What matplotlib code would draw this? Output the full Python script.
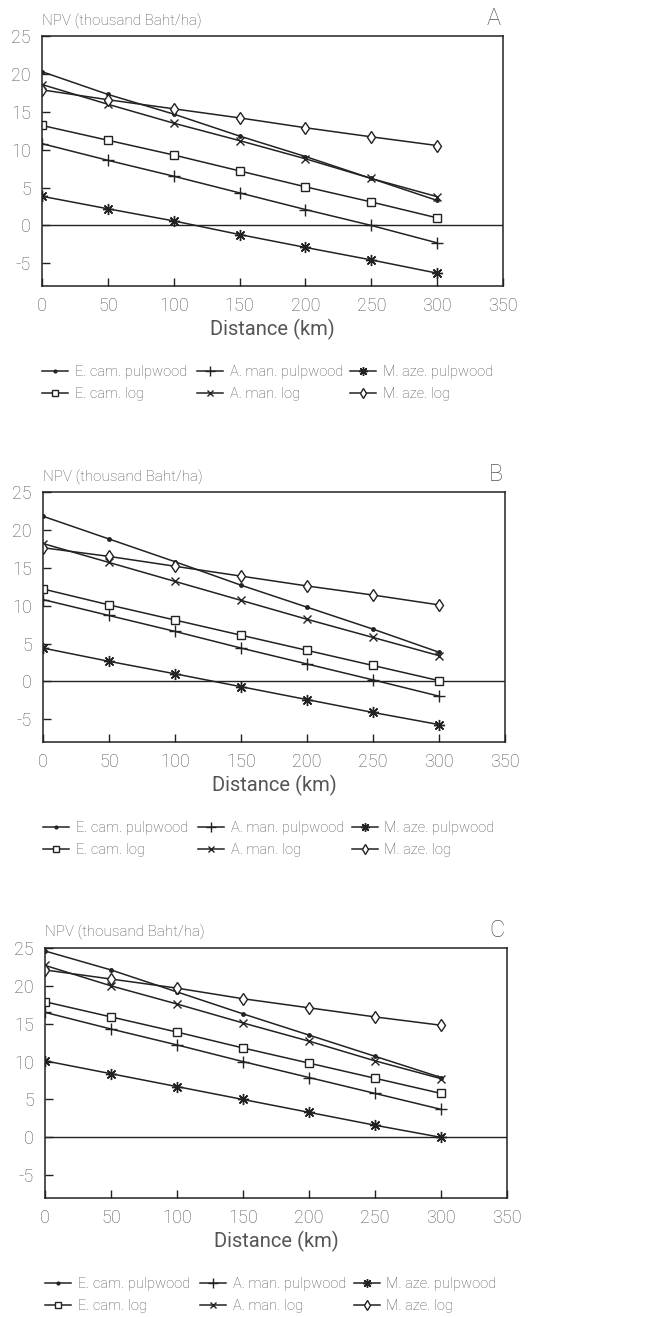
import matplotlib
matplotlib.use('Agg')
import matplotlib.pyplot as plt
from matplotlib.legend import Legend

plt.rcParams['font.family'] = ['Roboto', 'DejaVu Sans']
plt.rcParams['font.weight'] = 'light'
plt.rcParams['axes.unicode_minus'] = False

distanz = [0, 50, 100, 150, 200, 250, 300]

namen = ['E. cam. pulpwood', 'E. cam. log', 'A. man. pulpwood',
         'A. man. log', 'M. aze. pulpwood', 'M. aze. log']

# Panel A
a_ecam_pulp = [20.3, 17.3, 14.7, 11.8, 9.1, 6.2, 3.3]
a_ecam_log = [13.2, 11.25, 9.3, 7.2, 5.1, 3.1, 1.0]
a_aman_pulp = [10.8, 8.6, 6.5, 4.3, 2.1, 0.0, -2.3]
a_aman_log = [18.6, 16.0, 13.5, 11.2, 8.8, 6.2, 3.8]
a_maze_pulp = [3.85, 2.2, 0.6, -1.2, -2.9, -4.55, -6.3]
a_maze_log = [17.9, 16.6, 15.4, 14.2, 12.9, 11.7, 10.55]

# Panel B
b_ecam_pulp = [21.8, 18.8, 15.8, 12.7, 9.8, 6.9, 3.85]
b_ecam_log = [12.2, 10.1, 8.1, 6.1, 4.1, 2.1, 0.1]
b_aman_pulp = [10.8, 8.7, 6.6, 4.4, 2.3, 0.2, -1.95]
b_aman_log = [18.2, 15.7, 13.2, 10.7, 8.2, 5.8, 3.4]
b_maze_pulp = [4.4, 2.65, 1.0, -0.7, -2.4, -4.1, -5.7]
b_maze_log = [17.65, 16.5, 15.2, 13.9, 12.6, 11.4, 10.1]

# Panel C
c_ecam_pulp = [24.6, 22.1, 19.2, 16.3, 13.5, 10.7, 7.9]
c_ecam_log = [17.9, 15.9, 13.9, 11.8, 9.8, 7.8, 5.8]
c_aman_pulp = [16.5, 14.3, 12.2, 10.0, 7.9, 5.8, 3.7]
c_aman_log = [22.7, 20.0, 17.6, 15.1, 12.7, 10.1, 7.75]
c_maze_pulp = [10.1, 8.4, 6.7, 5.0, 3.3, 1.6, 0.0]
c_maze_log = [22.1, 20.9, 19.7, 18.3, 17.1, 15.9, 14.8]

panels = {
    'A': [a_ecam_pulp, a_ecam_log, a_aman_pulp, a_aman_log, a_maze_pulp, a_maze_log],
    'B': [b_ecam_pulp, b_ecam_log, b_aman_pulp, b_aman_log, b_maze_pulp, b_maze_log],
    'C': [c_ecam_pulp, c_ecam_log, c_aman_pulp, c_aman_log, c_maze_pulp, c_maze_log],
}

marker = [
    dict(marker='o', markersize=2.5, markerfacecolor='#222'),
    dict(marker='s', markersize=5.5, markerfacecolor='white'),
    dict(marker='+', markersize=8.5, markeredgewidth=1.0),
    dict(marker='x', markersize=6, markeredgewidth=1.0),
    dict(marker=(8, 2, 0), markersize=8, markeredgewidth=1.0),
    dict(marker='d', markersize=6, markerfacecolor='white'),
]

textfarbe = '#555'
positionen = {'A': [0.0632, 0.7828, 0.6932, 0.1898],
              'B': [0.0647, 0.4366, 0.6947, 0.1898],
              'C': [0.0677, 0.0904, 0.6947, 0.1898]}
spalten_x = [0.0, 0.336, 0.668]

fig = plt.figure(figsize=(6.65, 13.17), dpi=100)

for buchstabe, reihen in panels.items():
    ax = fig.add_axes(positionen[buchstabe])
    ax.axhline(0, color='#222', linewidth=1.0)
    linien = []
    for werte, name, m in zip(reihen, namen, marker):
        l, = ax.plot(distanz, werte, color='#222', linewidth=1.1,
                     markeredgecolor='#222', label=name, **m)
        linien.append(l)
    ax.set_xlim(0, 350)
    ax.set_ylim(-8, 25)
    ax.set_xticks(range(0, 351, 50))
    ax.set_yticks([-5, 0, 5, 10, 15, 20, 25])
    ax.tick_params(direction='in', length=6, width=1, colors='#222',
                   labelcolor=textfarbe, labelsize=13, pad=8)
    for s in ax.spines.values():
        s.set_color('#222')
        s.set_linewidth(1.1)
    ax.set_xlabel('Distance (km)', fontsize=14.5, color=textfarbe, labelpad=3)
    ax.text(0, 1.03, 'NPV (thousand Baht/ha)', transform=ax.transAxes,
            fontsize=11, color=textfarbe, va='bottom', ha='left')
    ax.text(0.995, 1.025, buchstabe, transform=ax.transAxes,
            fontsize=17, color=textfarbe, va='bottom', ha='right')
    for i, x0 in enumerate(spalten_x):
        leg = Legend(ax, linien[2 * i:2 * i + 2], namen[2 * i:2 * i + 2],
                     loc='upper left', bbox_to_anchor=(x0, -0.315),
                     frameon=False, fontsize=10.5, handlelength=1.8,
                     handletextpad=0.45, labelspacing=0.55,
                     borderaxespad=0, borderpad=0,
                     labelcolor=textfarbe, markerscale=0.8)
        ax.add_artist(leg)

fig.savefig('out.png', dpi=100, facecolor='white')
